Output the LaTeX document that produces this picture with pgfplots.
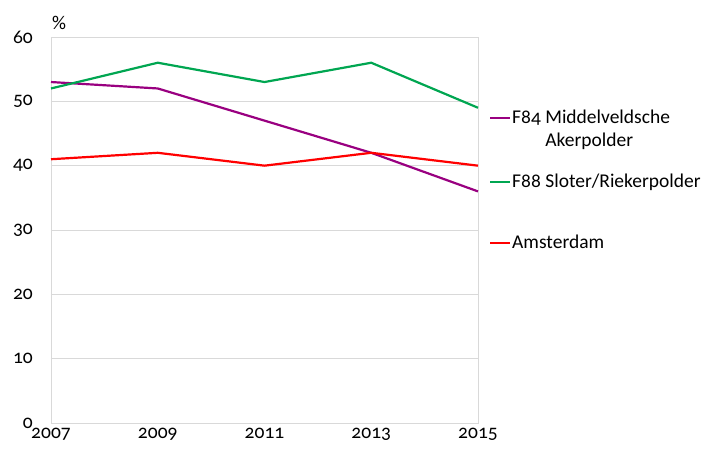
\documentclass[border=0pt]{standalone}
\usepackage{fontspec}
\setmainfont{Carlito}
\newfontfamily\corb{Carlito}[RawFeature=+onum]
\usepackage{pgfplots}
\pgfplotsset{compat=1.18}
\definecolor{cpurple}{RGB}{153,0,128}
\definecolor{cgreen}{RGB}{0,166,81}
\definecolor{cred}{RGB}{255,0,0}
\definecolor{cgrid}{RGB}{217,217,217}
\begin{document}
\corb\fontsize{19.5}{23}\selectfont
\begin{tikzpicture}[x=1pt,y=1pt,every node/.append style={font=\corb\fontsize{19.5}{23}\selectfont}]
\path[use as bounding box] (-51,-29) rectangle (657,423);
\begin{axis}[at={(0,0)}, anchor=south west,
  scale only axis, width=427pt, height=386pt,
  xmin=2007, xmax=2015, ymin=0, ymax=60,
  xtick={2007,2009,2011,2013,2015},
  ytick={0,10,20,30,40,50,60},
  ymajorgrids, grid style={cgrid, line width=0.8pt},
  axis line style={cgrid, line width=0.8pt},
  tick style={draw=none},
  xticklabel={\corb\pgfmathprintnumber[assume math mode=true,1000 sep={}]{\tick}},
  yticklabel={\corb\pgfmathprintnumber[assume math mode=true]{\tick}},
  ticklabel style={font=\corb\fontsize{19.5}{23}\selectfont},
  yticklabel style={inner sep=0pt, anchor=east, xshift=-18pt},
  xticklabel style={inner sep=0pt, anchor=north, yshift=-5pt},
  clip=false,
]
\addplot[cpurple, line width=2.2pt] coordinates {(2007,53) (2009,52) (2011,47) (2013,42) (2015,36)};
\addplot[cgreen, line width=2.2pt] coordinates {(2007,52) (2009,56) (2011,53) (2013,56) (2015,49)};
\addplot[cred, line width=2.2pt] coordinates {(2007,41) (2009,42) (2011,40) (2013,42) (2015,40)};
\node[anchor=base west, inner sep=0pt] at (rel axis cs:0,1) [xshift=1pt, yshift=7pt] {\%};
\end{axis}
% legend
\draw[cpurple, line width=2.2pt] (439,305) -- (459,305);
\node[anchor=base west, inner sep=0pt] at (461,299) {F84 Middelveldsche};
\node[anchor=base west, inner sep=0pt] at (461,276) {\phantom{F84 }Akerpolder};
\draw[cgreen, line width=2.2pt] (439,241) -- (459,241);
\node[anchor=base west, inner sep=0pt] at (461,235) {F88 Sloter/Riekerpolder};
\draw[cred, line width=2.2pt] (439,180) -- (459,180);
\node[anchor=base west, inner sep=0pt] at (461,174) {Amsterdam};
\end{tikzpicture}
\end{document}
